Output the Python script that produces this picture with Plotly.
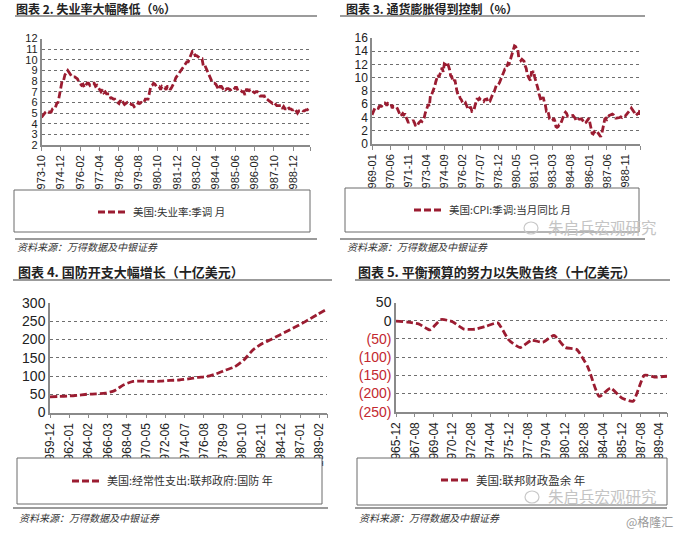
import pandas as pd
import plotly.graph_objects as go

# ---------------- data ----------------
# Chart 2: US unemployment rate, SA, monthly 1973-10 .. 1989-12
unemp_start = "1973-10-01"
unemp = [
    4.6, 4.8, 4.9,
    5.1, 5.2, 5.1, 5.1, 5.1, 5.4, 5.5, 5.5, 5.9, 6.0, 6.6, 7.2,
    8.1, 8.1, 8.6, 8.8, 9.0, 8.8, 8.6, 8.4, 8.4, 8.4, 8.3, 8.2,
    7.9, 7.7, 7.6, 7.7, 7.4, 7.6, 7.8, 7.8, 7.6, 7.7, 7.8, 7.8,
    7.5, 7.6, 7.4, 7.2, 7.0, 7.2, 6.9, 7.0, 6.8, 6.8, 6.8, 6.4,
    6.4, 6.3, 6.3, 6.1, 6.0, 5.9, 6.2, 5.9, 6.0, 5.8, 5.9, 6.0,
    5.9, 5.9, 5.8, 5.8, 5.6, 5.7, 5.7, 6.0, 5.9, 6.0, 5.9, 6.0,
    6.3, 6.3, 6.3, 6.9, 7.5, 7.6, 7.8, 7.7, 7.5, 7.5, 7.5, 7.2,
    7.5, 7.4, 7.4, 7.2, 7.5, 7.5, 7.2, 7.4, 7.6, 7.9, 8.3, 8.5,
    8.6, 8.9, 9.0, 9.3, 9.4, 9.6, 9.8, 9.8, 10.1, 10.4, 10.8, 10.8,
    10.4, 10.4, 10.3, 10.2, 10.1, 10.1, 9.4, 9.5, 9.2, 8.8, 8.5, 8.3,
    8.0, 7.8, 7.8, 7.7, 7.4, 7.2, 7.5, 7.5, 7.3, 7.4, 7.2, 7.3,
    7.3, 7.2, 7.2, 7.3, 7.2, 7.4, 7.4, 7.1, 7.1, 7.1, 7.0, 7.0,
    6.7, 7.2, 7.2, 7.1, 7.2, 7.2, 7.0, 6.9, 7.0, 7.0, 6.9, 6.6,
    6.6, 6.6, 6.6, 6.3, 6.3, 6.2, 6.1, 6.0, 5.9, 6.0, 5.8, 5.7,
    5.7, 5.7, 5.7, 5.4, 5.6, 5.4, 5.4, 5.6, 5.4, 5.4, 5.3, 5.3,
    5.4, 5.2, 5.0, 5.2, 5.2, 5.3, 5.2, 5.2, 5.3, 5.3, 5.4, 5.4,
]
unemp_ticks = ["1973-10", "1974-12", "1976-02", "1977-04", "1978-06", "1979-08", "1980-10",
               "1981-12", "1983-02", "1984-04", "1985-06", "1986-08", "1987-10", "1988-12"]

# Chart 3: US CPI yoy, SA, monthly 1969-01 .. 1990-01
cpi_start = "1969-01-01"
cpi = [
    4.4, 4.7, 5.2, 5.5, 5.5, 5.5, 5.4, 5.7, 5.7, 5.7, 5.9, 6.2,
    6.2, 6.1, 5.8, 6.1, 6.0, 6.0, 6.0, 5.4, 5.7, 5.7, 5.6, 5.6,
    5.3, 5.0, 4.7, 4.2, 4.4, 4.6, 4.4, 4.6, 4.1, 3.8, 3.3, 3.3,
    3.3, 3.4, 3.5, 3.5, 3.2, 2.7, 2.9, 2.9, 3.2, 3.4, 3.5, 3.4,
    3.6, 3.9, 4.6, 5.1, 5.5, 6.0, 5.7, 7.4, 7.4, 7.8, 8.3, 8.7,
    9.4, 10.0, 10.4, 10.1, 10.7, 10.9, 11.5, 10.9, 12.1, 12.0, 12.0, 12.3,
    11.8, 11.2, 10.3, 10.2, 9.5, 9.4, 9.7, 8.6, 7.9, 7.4, 7.4, 6.9,
    6.7, 6.3, 6.1, 6.0, 6.2, 5.9, 5.4, 5.7, 5.5, 5.5, 4.9, 4.9,
    5.2, 5.9, 6.4, 6.9, 6.7, 6.9, 6.7, 6.6, 6.6, 6.4, 6.7, 6.7,
    6.8, 6.4, 6.6, 6.5, 6.9, 7.4, 7.7, 7.9, 8.3, 8.9, 8.9, 9.0,
    9.3, 9.9, 10.1, 10.5, 10.9, 11.3, 11.3, 11.8, 12.2, 12.1, 12.6, 13.3,
    13.9, 14.2, 14.8, 14.7, 14.4, 14.4, 13.1, 12.9, 12.6, 12.8, 12.7, 12.5,
    11.8, 11.4, 10.5, 10.0, 9.8, 9.6, 10.8, 10.8, 11.0, 10.1, 9.6, 8.9,
    8.4, 7.6, 6.8, 6.5, 6.7, 7.1, 6.4, 5.9, 5.0, 5.1, 4.6, 3.8,
    3.7, 3.5, 3.6, 3.9, 3.5, 2.6, 2.5, 2.6, 2.9, 2.9, 3.3, 3.8,
    4.2, 4.6, 4.8, 4.6, 4.2, 4.2, 4.2, 4.3, 4.3, 4.3, 4.1, 3.9,
    3.5, 3.5, 3.7, 3.7, 3.8, 3.8, 3.6, 3.3, 3.1, 3.2, 3.5, 3.8,
    3.9, 3.1, 2.2, 1.6, 1.5, 1.8, 1.6, 1.6, 1.8, 1.5, 1.3, 1.1,
    1.5, 2.1, 3.0, 3.8, 3.9, 3.7, 3.9, 4.3, 4.4, 4.5, 4.5, 4.4,
    4.0, 3.9, 3.9, 3.9, 3.9, 4.0, 4.1, 4.0, 4.2, 4.2, 4.2, 4.4,
    4.7, 4.8, 5.0, 5.1, 5.4, 5.2, 5.0, 4.7, 4.3, 4.5, 4.6, 4.6,
    5.2,
]
cpi_ticks = ["1969-01", "1970-06", "1971-11", "1973-04", "1974-09", "1976-02", "1977-07",
             "1978-12", "1980-05", "1981-10", "1983-03", "1984-08", "1986-01", "1987-06", "1988-11"]

# Chart 4: US federal defense spending (bn USD), annual 1959-12 .. 1989-12
defense_start = "1959-12-01"
defense = [43, 44, 45, 47, 50, 51, 53, 60, 76, 85, 86, 85, 86, 88, 89, 92,
           96, 99, 106, 116, 125, 144, 172, 189, 201, 214, 227, 240, 254, 269, 283]
defense_ticks = ["1959-12", "1962-01", "1964-02", "1966-03", "1968-04", "1970-05", "1972-06",
                 "1974-07", "1976-08", "1978-09", "1980-10", "1982-11", "1984-12", "1987-01", "1989-02"]

# Chart 5: US federal budget surplus (bn USD), annual 1965-12 .. 1989-12
surplus_start = "1965-12-01"
surplus = [-1.4, -3.7, -8.6, -25.2, 3.2, -2.8, -23.0, -23.4, -14.9, -6.1, -53.2, -73.7,
           -53.7, -59.2, -40.7, -73.8, -79.0, -128.0, -207.8, -185.4, -212.3, -221.2,
           -149.7, -155.2, -152.6]
surplus_ticks = ["1965-12", "1967-08", "1969-04", "1970-12", "1972-08", "1974-04", "1975-12",
                 "1977-08", "1979-04", "1980-12", "1982-08", "1984-04", "1985-12", "1987-08", "1989-04"]
surplus_yvals = [50, 0, -50, -100, -150, -200, -250]
surplus_ylabels = ["50", "0", "(50)", "(100)", "(150)", "(200)", "(250)"]

unemp_x = pd.date_range(unemp_start, periods=len(unemp), freq="MS")
cpi_x = pd.date_range(cpi_start, periods=len(cpi), freq="MS")
defense_x = pd.date_range(defense_start, periods=len(defense), freq="12MS")
surplus_x = pd.date_range(surplus_start, periods=len(surplus), freq="12MS")

# ---------------- style ----------------
W, H = 684, 536
def fx(p): return p / W
def fy(p): return 1 - p / H

RED = "#9B1C31"
NEG = "#C3282F"
GRAY = "#8a8a8a"
CJK = "Noto Sans CJK SC"
LAT = "Liberation Sans, Arial"
LINE = dict(color=RED, width=2.8, dash="7px,3px")

fig = go.Figure()
fig.add_trace(go.Scatter(x=unemp_x, y=unemp, mode="lines", line=LINE,
                         name="美国:失业率:季调 月", xaxis="x", yaxis="y", legend="legend"))
fig.add_trace(go.Scatter(x=cpi_x, y=cpi, mode="lines", line=LINE,
                         name="美国:CPI:季调:当月同比 月", xaxis="x2", yaxis="y2", legend="legend2"))
fig.add_trace(go.Scatter(x=defense_x, y=defense, mode="lines", line=dict(LINE, shape="spline", smoothing=0.6),
                         name="美国:经常性支出:联邦政府:国防 年", xaxis="x3", yaxis="y3", legend="legend3"))
fig.add_trace(go.Scatter(x=surplus_x, y=surplus, mode="lines", line=dict(LINE, shape="spline", smoothing=0.5),
                         name="美国:联邦财政盈余 年", xaxis="x4", yaxis="y4", legend="legend4"))


def xax(x0, x1, y_anchor, ticks, start, end, size):
    return dict(domain=[fx(x0), fx(x1)], anchor=y_anchor, type="date", automargin=False,
                range=[start, end], tickmode="array",
                tickvals=ticks + [end], ticktext=ticks + [""],
                tickangle=-90, showline=True, linecolor=GRAY, linewidth=1.5,
                ticks="outside", ticklen=4, tickcolor=GRAY, tickwidth=1,
                showgrid=False, zeroline=False,
                tickfont=dict(family=LAT, size=size, color="#222"))


def yax(y0, y1, x_anchor, rng, dtick, size):
    return dict(domain=[fy(y1), fy(y0)], anchor=x_anchor, range=rng, dtick=dtick, automargin=False,
                showline=True, linecolor=GRAY, linewidth=1.5, ticks="",
                showgrid=True, gridcolor="#6f6f6f", griddash="dot", gridwidth=1,
                zeroline=False, tickfont=dict(family=LAT, size=size, color="#222"))


end1 = str(unemp_x[-1].date())
end2 = str(cpi_x[-1].date())
end3 = str(defense_x[-1].date())
end4 = str(surplus_x[-1].date())

y4 = yax(302.5, 411.7, "x4", [-250, 50], 50, 14)
y4.update(tickmode="array", tickvals=surplus_yvals,
          ticktext=[t if v >= 0 else f'<span style="color:{NEG}">{t}</span>'
                    for v, t in zip(surplus_yvals, surplus_ylabels)])

def legend_at(x, y, size):
    return dict(x=fx(x), y=fy(y), xanchor="left", yanchor="middle", bgcolor="rgba(0,0,0,0)",
                font=dict(family=CJK, size=size, color="#333"), itemwidth=30)

fig.update_layout(
    width=W, height=H, margin=dict(l=0, r=0, t=0, b=0, pad=0, autoexpand=False),
    paper_bgcolor="white", plot_bgcolor="white", showlegend=True,
    xaxis=xax(41.5, 310, "y", unemp_ticks, unemp_start, end1, 11),
    yaxis=yax(38.5, 145, "x", [2, 12], 1, 11),
    xaxis2=xax(372, 640, "y2", cpi_ticks, cpi_start, end2, 11),
    yaxis2=yax(38, 144, "x2", [0, 16], 2, 12),
    xaxis3=xax(50, 327, "y3", defense_ticks, defense_start, end3, 12),
    yaxis3=yax(303, 412.5, "x3", [0, 300], 50, 14),
    xaxis4=xax(396, 667, "y4", surplus_ticks, surplus_start, end4, 12),
    yaxis4=y4,
    legend=legend_at(93, 212, 10.5),
    legend2=legend_at(409, 210, 10.5),
    legend3=legend_at(67, 481, 11),
    legend4=legend_at(436, 480, 11.5),
)

shapes = []
def hline(x0, x1, y, w=1.5, color="#7a7a7a"):
    shapes.append(dict(type="line", xref="paper", yref="paper", x0=fx(x0), x1=fx(x1),
                       y0=fy(y), y1=fy(y), line=dict(color=color, width=w), layer="above"))
def box(x0, y0, x1, y1):
    shapes.append(dict(type="rect", xref="paper", yref="paper", x0=fx(x0), x1=fx(x1),
                       y0=fy(y1), y1=fy(y0), line=dict(color="#6a6a6a", width=1),
                       fillcolor="white", layer="above"))

# title underlines / source separators
hline(15, 317, 16); hline(340, 645, 16); hline(13, 332, 280); hline(355, 670, 280)
hline(15, 317, 239); hline(340, 645, 239); hline(13, 328, 508); hline(355, 667, 508)
# legend boxes
box(14, 190, 310, 232); box(345, 188, 639, 232); box(17, 458, 322, 504); box(357, 458, 667, 505)
# watermark icons
for cx, cy in [(531, 228), (532, 497)]:
    shapes.append(dict(type="circle", xref="paper", yref="paper",
                       x0=fx(cx - 7), x1=fx(cx + 7), y0=fy(cy + 6), y1=fy(cy - 6),
                       line=dict(color="#c8c8c8", width=1.2), layer="above"))
fig.update_layout(shapes=shapes)

ann = []
def text(x, y, s, size, color="#222", weight="normal", style="normal", family=CJK):
    ann.append(dict(xref="paper", yref="paper", x=fx(x), y=fy(y), text=s, showarrow=False,
                    xanchor="left", yanchor="middle",
                    font=dict(family=family, size=size, color=color, weight=weight, style=style)))

text(14, 8, "图表 2. 失业率大幅降低（%）", 12, weight="bold")
text(344, 8, "图表 3. 通货膨胀得到控制（%）", 12, weight="bold")
text(16, 271, "图表 4. 国防开支大幅增长（十亿美元）", 13, weight="bold")
text(356, 271, "图表 5. 平衡预算的努力以失败告终（十亿美元）", 13, weight="bold")
for x, y in [(15, 247), (345, 247), (17, 517), (357, 517)]:
    text(x, y, "资料来源：万得数据及中银证券", 10, color="#333", style="italic")
text(546, 227, "朱启兵宏观研究", 15.5, color="#c4c4c4")
text(546, 496, "朱启兵宏观研究", 15.5, color="#c4c4c4")
text(624, 521, "@格隆汇", 12, color="#9a9a9a")
fig.update_layout(annotations=ann)

fig.write_html("out.html", config={"displayModeBar": False},
               post_script="document.body.style.margin='0px';document.body.style.overflow='hidden';")
